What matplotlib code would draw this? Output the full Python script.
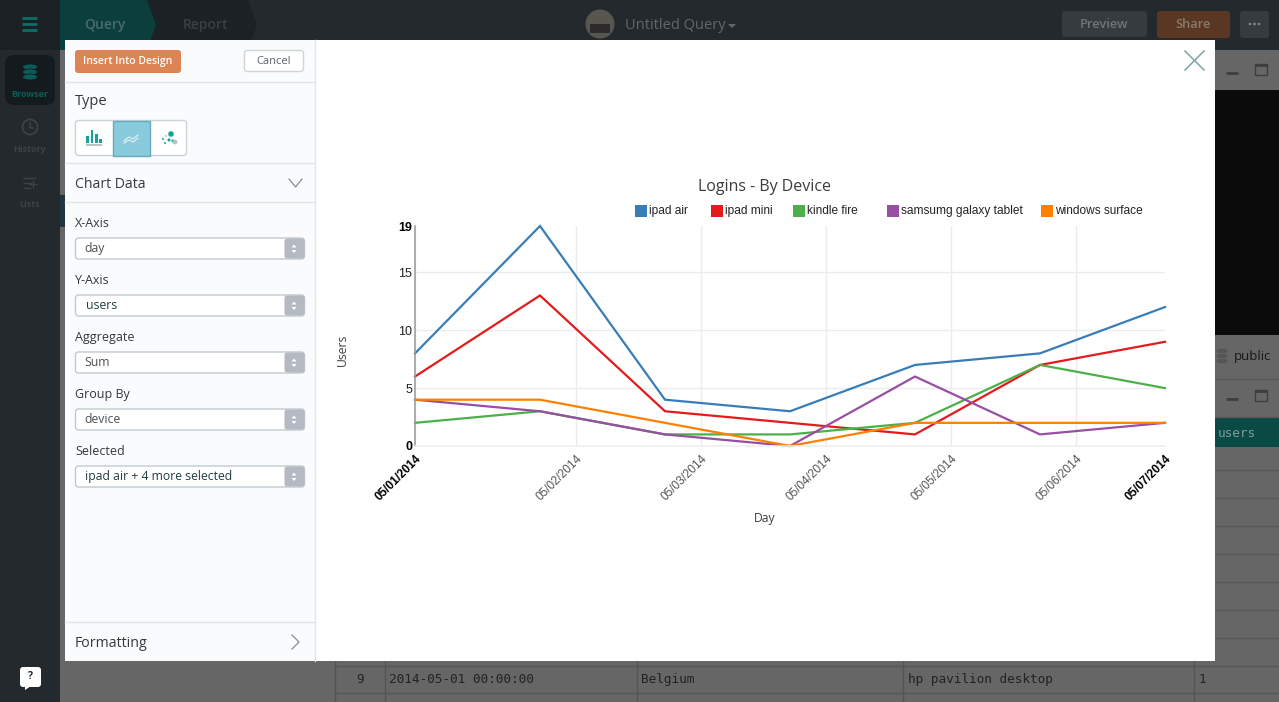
import matplotlib
matplotlib.use("Agg")
import matplotlib.pyplot as plt
from matplotlib.patches import Rectangle, FancyBboxPatch, Polygon, Circle, Ellipse

W, H = 1279, 702
UI_FONT = "Open Sans"
CHART_FONT = "Liberation Sans"
MONO = "DejaVu Sans Mono"

# values per day
days = ["05/01/2014", "05/02/2014", "05/03/2014", "05/04/2014",
        "05/05/2014", "05/06/2014", "05/07/2014"]
series = {
    "ipad air": ([8, 19, 4, 3, 7, 8, 12], "#377eb8"),
    "ipad mini": ([6, 13, 3, 2, 1, 7, 9], "#e41a1c"),
    "kindle fire": ([2, 3, 1, 1, 2, 7, 5], "#4daf4a"),
    "samsumg galaxy tablet": ([4, 3, 1, 0, 6, 1, 2], "#984ea3"),
    "windows surface": ([4, 4, 2, 0, 2, 2, 2], "#ff7f00"),
}
# the tick marks sit off the data points (time zone shift in the original)
tick_pos = [0, 1.288, 2.288, 3.288, 4.288, 5.288, 6]

fig = plt.figure(figsize=(W / 100, H / 100), dpi=100)

# whole-figure layer in pixel coordinates for the app around the chart
bg = fig.add_axes([0, 0, 1, 1], zorder=0)
bg.set_xlim(0, W)
bg.set_ylim(H, 0)
bg.axis("off")


def rect(x, y, w, h, color, z=1, **kw):
    bg.add_patch(Rectangle((x, y), w, h, facecolor=color, edgecolor="none", zorder=z, **kw))


def rbox(x, y, w, h, face, edge="none", r=3, z=2, lw=1):
    bg.add_patch(FancyBboxPatch((x + r, y + r), w - 2 * r, h - 2 * r,
                                boxstyle=f"round,pad={r},rounding_size={r}",
                                facecolor=face, edgecolor=edge, linewidth=lw, zorder=z))


def label(x, y, s, size, color="#33393d", ha="left", z=5, family=UI_FONT, **kw):
    # text comes out a bit high with va=center, so nudge it down
    bg.text(x, y + 1.3, s, fontsize=size, color=color, ha=ha, va="center", family=family, zorder=z, **kw)


def line(xs, ys, color, lw=1, z=4):
    bg.plot(xs, ys, color=color, lw=lw, zorder=z, solid_capstyle="butt")


# dimmed app behind the dialog
rect(0, 0, W, H, "#666666", 0)
rect(0, 0, W, 50, "#23292d")
rect(0, 0, 60, H, "#23292d")
rect(0, 0, 60, 50, "#1b2024")
bg.add_patch(Polygon([(60, 0), (147, 0), (156, 25), (147, 50), (60, 50)], facecolor="#0a3f3d", zorder=2))
bg.add_patch(Polygon([(147, 0), (248, 0), (257, 25), (248, 50), (147, 50), (156, 25)], facecolor="#1c2126", zorder=2))
label(105, 24, "Query", 10, "#4b6b69", ha="center", fontweight="semibold")
label(205, 24, "Report", 10, "#3a4044", ha="center", fontweight="semibold")
bg.add_patch(Circle((600, 24), 14.5, facecolor="#59564f", zorder=3))
rect(590, 24, 20, 9, "#2c2a2a", 4)
label(625, 24, "Untitled Query", 10.5, "#62676a")
bg.add_patch(Polygon([(728, 24), (736, 24), (732, 28)], facecolor="#62676a", zorder=3))
rbox(1062, 11, 85, 26, "#363b3f")
label(1104, 23, "Preview", 9.3, "#70757a", ha="center", fontweight="semibold")
rbox(1157, 11, 73, 27, "#5a3723")
label(1193, 23, "Share", 9.3, "#87796f", ha="center", fontweight="semibold")
rbox(1240, 11, 29, 27, "#363b3f")
for dx in (1250, 1254.5, 1259):
    bg.add_patch(Circle((dx, 24), 1.3, facecolor="#868a8d", zorder=4))

# sidebar
for yy in (18, 24, 30):
    line([22, 37], [yy, yy], "#0d6e69", 2)
rect(60, 195, 5, 32, "#1f3640", 1)
rbox(5, 55, 50, 50, "#141a1e", r=9)
for yy in (67, 72, 77):
    bg.add_patch(Ellipse((30, yy), 15, 6, facecolor="#0b5c58", edgecolor="#141a1e", lw=0.6, zorder=3))
label(30, 93, "Browser", 6.5, "#0b5c58", ha="center", fontweight="bold")
bg.add_patch(Circle((30, 127), 7.5, facecolor="none", edgecolor="#3c4347", lw=1.3, zorder=3))
line([30, 30, 34], [122, 128, 128], "#3c4347", 1.1)
label(30, 148, "History", 6.5, "#3c4347", ha="center", fontweight="bold")
for yy, xe in ((178, 36), (183, 31), (188, 31)):
    line([23, xe], [yy, yy], "#3c4347", 1)
line([33, 33], [180, 188], "#3c4347", 1)
line([29, 37], [184, 184], "#3c4347", 1)
label(30, 203, "Lists", 6.5, "#3c4347", ha="center", fontweight="bold")
rbox(20, 667, 21, 20, "#ffffff", r=3)
bg.add_patch(Polygon([(25, 686), (31, 686), (25, 690)], facecolor="#ffffff", zorder=3))
label(30, 675, "?", 7.5, "#23292d", ha="center", fontweight="bold")

# bits of the query table showing past the dialog
rect(1215, 90, 64, 245, "#0b0b0b", 1)
rect(1215, 418, 64, 29, "#0a4a45", 1)
label(1218, 432, "users", 9.2, "#7f9c99", family=MONO)
label(1234, 355, "public", 9.5, "#15191b")
for dy in (-5, 0, 5):
    bg.add_patch(Ellipse((1222, 356 + dy), 12, 5, facecolor="#555555", edgecolor="#666666", lw=0.5, zorder=3))
line([1215, 1279], [379, 379], "#585858")
line([1215, 1279], [417, 417], "#585858")
for yy in range(470, 662, 28):
    line([1215, 1279], [yy, yy], "#585858")
for yy in (73, 399):
    line([1226, 1238], [yy, yy], "#3e3e3e", 2)
    bg.add_patch(Rectangle((1255, yy - 9), 12, 11, facecolor="none", edgecolor="#3e3e3e", lw=1, zorder=3))
    line([1255, 1267], [yy - 8, yy - 8], "#3e3e3e", 2)
line([335, 1279], [666, 666], "#555555")
line([335, 1279], [693, 693], "#555555")
for xx in (335, 385, 637, 903, 1194):
    line([xx, xx], [661, 702], "#555555")
label(360, 678, "9", 9.2, "#222222", ha="center", family=MONO)
label(389, 678, "2014-05-01 00:00:00", 9.2, "#222222", family=MONO)
label(641, 678, "Belgium", 9.2, "#222222", family=MONO)
label(908, 678, "hp pavilion desktop", 9.2, "#222222", family=MONO)
label(1199, 678, "1", 9.2, "#222222", family=MONO)

# dialog
rect(65, 40, 1150, 621, "#ffffff", 6)
rect(65, 40, 250, 621, "#f9fbfc", 6)
for yy in (82, 163, 202, 622):
    bg.plot([65, 315], [yy, yy], color="#dfe7e9", lw=1, zorder=7)
bg.plot([315, 315], [40, 661], color="#dfe7e9", lw=1, zorder=7)

UI_Z = 8
rbox(75, 50, 106, 23, "#dc8453", z=UI_Z)
label(127.5, 60.5, "Insert Into Design", 7.5, "#ffffff", ha="center", z=UI_Z + 1, fontweight="semibold")
rbox(244.5, 50.5, 59, 21, "#ffffff", "#cfd4d6", z=UI_Z)
label(273.5, 60, "Cancel", 8, "#5b6266", ha="center", z=UI_Z + 1)
label(75, 100, "Type", 10.5, z=UI_Z)
rbox(75.5, 120.5, 111, 35, "#ffffff", "#ccd3d6", z=UI_Z)
bg.add_patch(Rectangle((112.5, 120.5), 37.5, 35, facecolor="#88cbdc", edgecolor="#6aa9ba", lw=1, zorder=UI_Z + 1))
for bx, top in ((87, 136), (91.5, 130), (96, 134), (100, 139)):
    bg.add_patch(Rectangle((bx - 1, top), 2.6, 143 - top, facecolor="#10a59c", zorder=UI_Z + 1))
bg.add_patch(Rectangle((86, 144), 16, 2, facecolor="#b9c2c5", zorder=UI_Z + 1))
bg.plot([124, 129, 133, 138], [141, 137, 139, 135], color="#e6f4f7", lw=0.8, zorder=UI_Z + 2)
bg.plot([124, 129, 133, 138], [143, 140, 142, 138], color="#e6f4f7", lw=0.8, zorder=UI_Z + 2)
bg.scatter([171, 169, 173, 175, 166, 163, 165], [134, 140, 141, 142, 136, 139, 143],
           s=[16, 5, 5, 12, 2, 2, 2], c=["#10a59c", "#10a59c", "#10a59c", "#b9c2c5", "#b9c2c5", "#10a59c", "#10a59c"],
           linewidths=0, zorder=UI_Z + 2)
label(75, 183, "Chart Data", 10.1, z=UI_Z)
bg.plot([289, 295.5, 302], [179, 187, 179], color="#7f8f92", lw=0.9, zorder=UI_Z)
bg.plot([292, 299, 292], [635, 642, 649], color="#7f8f92", lw=0.9, zorder=UI_Z)
label(75, 642, "Formatting", 10.2, z=UI_Z)

fields = [("X-Axis", "day", "#4b5155", 84), ("Y-Axis", "users", "#23403f", 86),
          ("Aggregate", "Sum", "#4b5155", 84), ("Group By", "device", "#4b5155", 84),
          ("Selected", "ipad air + 4 more selected", "#23403f", 85)]
for i, (name, val, col, vx) in enumerate(fields):
    yy = 223 + 57 * i
    label(75, yy - 1, name, 9, z=UI_Z)
    rbox(75.5, yy + 15, 229, 21, "#ffffff", "#c2c9cd", z=UI_Z)
    bg.add_patch(FancyBboxPatch((287, yy + 18), 15, 15, boxstyle="round,pad=2.5,rounding_size=2.5",
                                facecolor="#b4b9c2", edgecolor="none", zorder=UI_Z + 1))
    bg.add_patch(Polygon([(291.5, yy + 24.5), (296.5, yy + 24.5), (294, yy + 21.5)], facecolor="#ffffff", zorder=UI_Z + 2))
    bg.add_patch(Polygon([(291.5, yy + 27), (296.5, yy + 27), (294, yy + 30)], facecolor="#ffffff", zorder=UI_Z + 2))
    label(vx, yy + 24.5, val, 8.8, col, z=UI_Z + 1)

bg.plot([1185, 1204], [51, 70], color="#7aa5a2", lw=1.1, zorder=UI_Z)
bg.plot([1185, 1204], [70, 51], color="#7aa5a2", lw=1.1, zorder=UI_Z)

# the chart itself
ax = fig.add_axes([415 / W, 1 - 446 / H, 750 / W, 220 / H], zorder=10)
ax.patch.set_alpha(0)
for name, (vals, color) in series.items():
    ax.plot(range(len(days)), vals, color=color, lw=1.6, label=name, clip_on=False,
            solid_joinstyle="miter")
ax.set_xlim(0, 6)
ax.set_ylim(0, 19)
ax.set_yticks([0, 5, 10, 15, 19])
ax.set_xticks(tick_pos)
ax.set_xticklabels(days, rotation=45, ha="right", rotation_mode="anchor",
                   family=CHART_FONT, fontsize=8.5, color="#555555")
ax.set_yticklabels(["0", "5", "10", "15", "19"], family=CHART_FONT, fontsize=9, color="#222222")
for lab in (ax.get_xticklabels()[0], ax.get_xticklabels()[-1],
            ax.get_yticklabels()[0], ax.get_yticklabels()[-1]):
    lab.set_fontweight("bold")
    lab.set_color("#000000")
ax.tick_params(length=0, pad=2)
ax.tick_params(axis="x", pad=5)
ax.grid(True, color="#ececec", lw=1)
ax.set_axisbelow(True)
# no grid line along the top and right edge in the original
ax.get_ygridlines()[-1].set_visible(False)
ax.get_xgridlines()[-1].set_visible(False)
for s in ("top", "right"):
    ax.spines[s].set_visible(False)
ax.spines["bottom"].set_color("#eeeeee")
ax.spines["left"].set_color("#999999")
ax.spines["left"].set_linewidth(1.1)
ax.spines["bottom"].set_linewidth(1.1)

label(764.5, 185.5, "Logins - By Device", 11.5, "#3d3d3d", ha="center", z=UI_Z)
label(764.5, 517, "Day", 8.7, "#3d3d3d", ha="center", z=UI_Z)
label(342, 349, "Users", 8.7, "#3d3d3d", ha="center", z=UI_Z, rotation=90)

# legend placed by hand, the spacing in the original is uneven
legend_x = {"ipad air": 635, "ipad mini": 711, "kindle fire": 793,
            "samsumg galaxy tablet": 887, "windows surface": 1041}
for name, (vals, color) in series.items():
    rect(legend_x[name], 205, 12, 12, color, UI_Z)
    label(legend_x[name] + 14, 210, name, 8.6, "#222222", z=UI_Z, family=CHART_FONT)

fig.savefig("out.png", dpi=100)
